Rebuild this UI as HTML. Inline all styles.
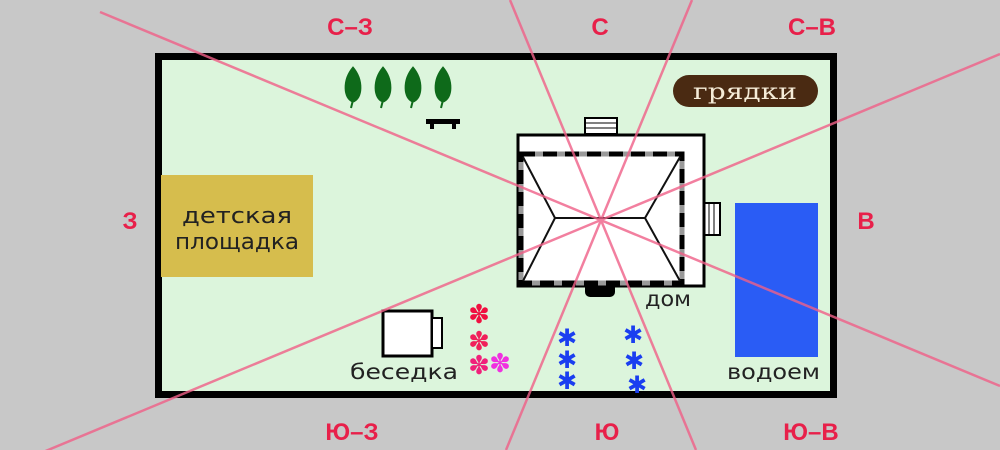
<!DOCTYPE html>
<html><head><meta charset="utf-8"><style>html,body{margin:0;padding:0;background:#c8c8c8}svg{display:block}</style></head>
<body>
<svg width="1000" height="450" viewBox="0 0 1000 450" xmlns="http://www.w3.org/2000/svg" font-family="DejaVu Sans, Liberation Sans, sans-serif">
<rect width="1000" height="450" fill="#c8c8c8"/>
<rect x="158.5" y="56.5" width="675" height="338" fill="#dcf5dc" stroke="#000" stroke-width="7"/>
<!-- playground -->
<rect x="161" y="175" width="152" height="102" fill="#d6bd4d"/>
<text x="237" y="223" font-size="22" text-anchor="middle" fill="#222" textLength="110" lengthAdjust="spacingAndGlyphs">детская</text>
<text x="237" y="249" font-size="22" text-anchor="middle" fill="#222" textLength="124" lengthAdjust="spacingAndGlyphs">площадка</text>
<!-- gryadki -->
<rect x="673" y="75" width="145" height="32" rx="16" fill="#4a2a12"/>
<text x="745" y="99" font-size="22" text-anchor="middle" fill="#f5ecd8" font-family="DejaVu Serif, Liberation Serif, serif" textLength="104" lengthAdjust="spacingAndGlyphs">грядки</text>
<!-- trees -->
<g fill="#0e6a1a" stroke="#0e6a1a">
<path d="M353 67 C342 80 343 99 353 102 C363 99 364 80 353 67Z"/><path d="M353 100 L351 108" stroke-width="2"/>
<path d="M383 67 C372 80 373 99 383 102 C393 99 394 80 383 67Z"/><path d="M383 100 L381 108" stroke-width="2"/>
<path d="M413 67 C402 80 403 99 413 102 C423 99 424 80 413 67Z"/><path d="M413 100 L411 108" stroke-width="2"/>
<path d="M443 67 C432 80 433 99 443 102 C453 99 454 80 443 67Z"/><path d="M443 100 L441 108" stroke-width="2"/>
</g>
<rect x="426" y="119" width="34" height="5" fill="#000"/><rect x="430" y="122" width="4" height="7" fill="#000"/><rect x="452" y="122" width="4" height="7" fill="#000"/>
<!-- house -->
<rect x="585" y="118" width="32" height="16" fill="#fff" stroke="#000" stroke-width="2"/>
<line x1="585" y1="123" x2="617" y2="123" stroke="#000"/><line x1="585" y1="128" x2="617" y2="128" stroke="#000"/>
<rect x="704" y="203" width="16" height="32" fill="#fff" stroke="#000" stroke-width="2"/>
<line x1="709" y1="203" x2="709" y2="235" stroke="#000"/><line x1="714" y1="203" x2="714" y2="235" stroke="#000"/>
<rect x="585" y="282" width="30" height="15" rx="5" fill="#000"/>
<rect x="518" y="135" width="186" height="151" fill="#fff" stroke="#000" stroke-width="3"/>
<rect x="521" y="154" width="161" height="129" fill="#fff" stroke="#000" stroke-width="5" stroke-dasharray="14 8"/>
<rect x="521" y="154" width="161" height="129" fill="none" stroke="#999" stroke-width="5" stroke-dasharray="8 14" stroke-dashoffset="-14"/>
<path d="M523 157 L555 218 L523 281 M680 157 L645 218 L680 281 M555 218 L645 218" stroke="#111" stroke-width="2" fill="none"/>
<text x="645" y="306" font-size="21" fill="#222" textLength="46" lengthAdjust="spacingAndGlyphs">дом</text>
<!-- pool -->
<rect x="735" y="203" width="83" height="154" fill="#2a5cf5"/>
<text x="727" y="379" font-size="21" fill="#222" textLength="93" lengthAdjust="spacingAndGlyphs">водоем</text>
<!-- gazebo -->
<rect x="383" y="311" width="49" height="45" fill="#fff" stroke="#000" stroke-width="3"/>
<rect x="432" y="318" width="10" height="30" fill="#fff" stroke="#000" stroke-width="2"/>
<text x="350" y="379" font-size="21" fill="#222" textLength="108" lengthAdjust="spacingAndGlyphs">беседка</text>
<!-- flowers -->
<g font-size="26" font-weight="bold" text-anchor="middle" font-family="DejaVu Sans, sans-serif">
<text x="479" y="323" fill="#f01040">✽</text>
<text x="479" y="350" fill="#f0205a">✽</text>
<text x="479" y="374" fill="#f0207a">✽</text>
<text x="500" y="372" fill="#f030e0">✽</text>
</g>
<g font-size="24" font-weight="bold" text-anchor="middle" fill="#1a3ef0" font-family="DejaVu Sans, sans-serif">
<text x="567" y="346">✱</text><text x="567" y="368">✱</text><text x="567" y="389">✱</text>
<text x="633" y="343">✱</text><text x="634" y="369">✱</text><text x="637" y="393">✱</text>
</g>
<!-- direction lines -->
<g stroke="#f06088" stroke-width="2.5" opacity="0.8">
<line x1="510" y1="0" x2="696" y2="450"/>
<line x1="692" y1="0" x2="506" y2="450"/>
<line x1="100" y1="12" x2="1000" y2="386"/>
<line x1="0" y1="470" x2="1000" y2="54"/>
</g>
<!-- labels -->
<g fill="#e8204a" font-size="24" font-weight="bold" text-anchor="middle" font-family="Liberation Sans, sans-serif">
<text x="350" y="35">С–З</text>
<text x="600" y="35">С</text>
<text x="812" y="35">С–В</text>
<text x="130" y="229">З</text>
<text x="866" y="229">В</text>
<text x="352" y="440">Ю–З</text>
<text x="607" y="440">Ю</text>
<text x="811" y="440">Ю–В</text>
</g>
</svg>
</body></html>
